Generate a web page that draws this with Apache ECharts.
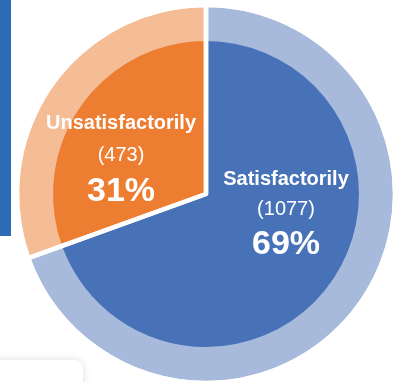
<!DOCTYPE html>
<html>
<head>
<meta charset="utf-8">
<script src="https://cdn.jsdelivr.net/npm/echarts@6/dist/echarts.min.js"></script>
<style>
  html, body { margin: 0; padding: 0; background: #ffffff; }
  #chart { width: 394px; height: 382px; }
</style>
</head>
<body>
<div id="chart"></div>
<script>
// Survey answers: how the work was rated
const categories = ['Satisfactorily', 'Unsatisfactorily'];
const counts = [1077, 473];

// Inner (solid) and outer (ring) colours per category
const innerColors = ['#4872b8', '#ed7d31'];
const outerColors = ['#a7badc', '#f5bd96'];

// Where each category's text block sits (line centres: name, count, percent)
const labelSpots = [
  { x: 286, y: [179, 209, 245] },
  { x: 121, y: [123, 155, 192] }
];

const total = counts.reduce((a, b) => a + b, 0);
const pieData = (colors) => categories.map((name, i) => ({
  name: name,
  value: counts[i],
  itemStyle: { color: colors[i] }
}));

const labelFont = 'Liberation Sans, Arial, sans-serif';
const labelGraphics = [];
categories.forEach((name, i) => {
  const spot = labelSpots[i];
  const pct = Math.round(counts[i] / total * 100) + '%';
  const lines = [
    { text: name, size: 20, weight: 'bold' },
    { text: '(' + counts[i] + ')', size: 20, weight: 'normal' },
    { text: pct, size: 34, weight: 'bold' }
  ];
  lines.forEach((ln, k) => {
    labelGraphics.push({
      type: 'text',
      x: spot.x,
      y: spot.y[k],
      z: 10,
      style: {
        text: ln.text,
        fill: '#ffffff',
        font: ln.weight + ' ' + ln.size + 'px ' + labelFont,
        textAlign: 'center',
        textVerticalAlign: 'middle'
      }
    });
  });
});

const CENTER = [206, 194];
const pieBase = {
  type: 'pie',
  center: CENTER,
  startAngle: 90,
  clockwise: true,
  silent: true,
  label: { show: false },
  labelLine: { show: false }
};

const chart = echarts.init(document.getElementById('chart'), null, { renderer: 'canvas' });
chart.setOption({
  backgroundColor: '#ffffff',
  animation: false,
  series: [
    // light outer ring
    Object.assign({}, pieBase, {
      radius: [0, 187],
      z: 1,
      data: pieData(outerColors)
    }),
    // solid inner pie
    Object.assign({}, pieBase, {
      radius: [0, 153],
      z: 2,
      data: pieData(innerColors)
    }),
    // white separators between the slices, across both rings
    Object.assign({}, pieBase, {
      radius: [0, 189],
      z: 3,
      itemStyle: { color: 'rgba(0,0,0,0)', borderColor: '#ffffff', borderWidth: 4.5 },
      data: categories.map((name, i) => ({ name: name, value: counts[i] }))
    })
  ],
  graphic: [
    {
      type: 'rect',
      shape: { x: 0, y: 0, width: 11, height: 236 },
      style: { fill: '#2b6cb5' },
      z: 5
    },
    {
      type: 'rect',
      shape: { x: -12, y: 360, width: 95, height: 40, r: 9 },
      style: { fill: '#ffffff', shadowBlur: 8, shadowColor: 'rgba(0,0,0,0.13)' },
      z: 5
    }
  ].concat(labelGraphics)
});
</script>
</body>
</html>
